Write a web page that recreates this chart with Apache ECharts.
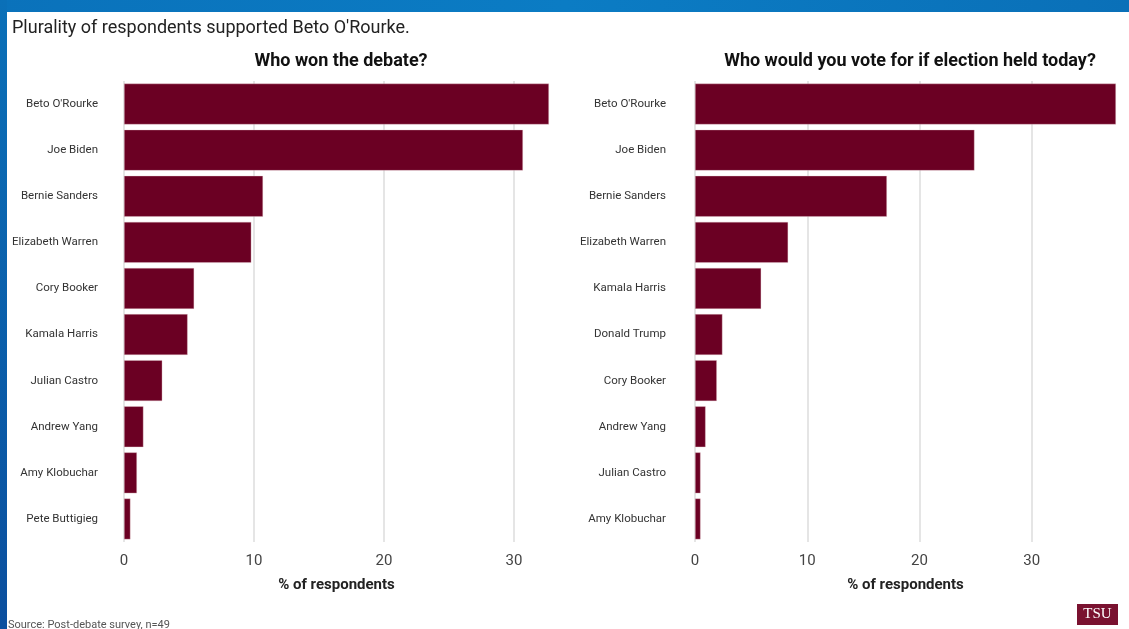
<!DOCTYPE html>
<html><head><meta charset="utf-8">
<script src="https://cdn.jsdelivr.net/npm/echarts@6/dist/echarts.min.js"></script>
<style>html,body{margin:0;padding:0;background:#fff}#c{width:1129px;height:629px}</style>
</head><body><div id="c"></div>
<script>
const debateCategories = ["Beto O'Rourke","Joe Biden","Bernie Sanders","Elizabeth Warren","Cory Booker","Kamala Harris","Julian Castro","Andrew Yang","Amy Klobuchar","Pete Buttigieg"];
const debateValues = [32.7, 30.7, 10.7, 9.8, 5.4, 4.9, 2.95, 1.5, 1.0, 0.5];
const voteCategories = ["Beto O'Rourke","Joe Biden","Bernie Sanders","Elizabeth Warren","Kamala Harris","Donald Trump","Cory Booker","Andrew Yang","Julian Castro","Amy Klobuchar"];
const voteValues = [37.5, 24.9, 17.1, 8.3, 5.9, 2.45, 1.95, 0.95, 0.5, 0.5];
const xTicks = [0, 10, 20, 30];

const FONT = 'Roboto';
const barColor = '#6b0023';
const chart = echarts.init(document.getElementById('c'), null, {renderer: 'canvas'});

function xAxis(gi) {
  return {
    type: 'value', gridIndex: gi, min: 0, max: 'dataMax', interval: 10,
    name: '% of respondents', nameLocation: 'middle', nameGap: 36,
    nameTextStyle: {fontFamily: FONT, fontWeight: 'bold', fontSize: 15, color: '#222'},
    axisLine: {show: false}, axisTick: {show: false},
    axisLabel: {fontFamily: FONT, fontSize: 15, color: '#444', margin: 12, showMaxLabel: false,
      formatter: v => xTicks.includes(v) ? String(v) : ''},
    splitLine: {show: true, showMaxLine: false, lineStyle: {color: '#dcdcdc', width: 1.5}}
  };
}
function yAxis(gi, cats, margin) {
  return {
    type: 'category', gridIndex: gi, data: cats, inverse: true,
    axisLine: {show: false}, axisTick: {show: false},
    axisLabel: {fontFamily: FONT, fontSize: 11.5, color: '#333', margin: margin}
  };
}
function series(gi, vals) {
  return {
    type: 'bar', xAxisIndex: gi, yAxisIndex: gi, data: vals, barCategoryGap: '11%',
    itemStyle: {color: barColor, borderColor: 'rgba(230,200,205,0.6)', borderWidth: 0.6},
    silent: true
  };
}

chart.setOption({
  animation: false,
  backgroundColor: '#fff',
  title: [
    {text: "Plurality of respondents supported Beto O'Rourke.", left: 7, top: 14,
     textStyle: {fontFamily: FONT, fontSize: 18, fontWeight: 'normal', color: '#222'}},
    {text: 'Who won the debate?', left: 336, top: 47, textAlign: 'center',
     textStyle: {fontFamily: FONT, fontSize: 18, fontWeight: 'bold', color: '#111'}},
    {text: 'Who would you vote for if election held today?', left: 905, top: 47, textAlign: 'center',
     textStyle: {fontFamily: FONT, fontSize: 18, fontWeight: 'bold', color: '#111'}},
    {text: 'Source: Post-debate survey, n=49', left: 3, top: 615,
     textStyle: {fontFamily: FONT, fontSize: 11, fontWeight: 'normal', color: '#555'}}
  ],
  grid: [
    {left: 124, right: 580, top: 81, bottom: 87},
    {left: 695, right: 13, top: 81, bottom: 87}
  ],
  xAxis: [xAxis(0), xAxis(1)],
  yAxis: [yAxis(0, debateCategories, 26), yAxis(1, voteCategories, 29)],
  series: [series(0, debateValues), series(1, voteValues)],
  graphic: [
    {type: 'rect', shape: {x: 0, y: 0, width: 1129, height: 12}, z: 100,
     style: {fill: new echarts.graphic.LinearGradient(0, 0, 1, 0, [{offset: 0, color: '#0a72bb'}, {offset: 0.5, color: '#0b7cc4'}, {offset: 1, color: '#0a70b8'}])}},
    {type: 'rect', shape: {x: 0, y: 0, width: 7, height: 629}, z: 100,
     style: {fill: new echarts.graphic.LinearGradient(0, 0, 0, 1, [{offset: 0, color: '#0a70b8'}, {offset: 1, color: '#0b4f9e'}])}},
    {type: 'rect', shape: {x: 1077, y: 604, width: 41, height: 21}, z: 100, style: {fill: '#7a1230'}},
    {type: 'text', x: 1097.5, y: 614.5, z: 101,
     style: {text: 'TSU', fill: '#fff', font: '15px "Liberation Serif", serif', textAlign: 'center', textVerticalAlign: 'middle'}}
  ]
});
</script></body></html>
